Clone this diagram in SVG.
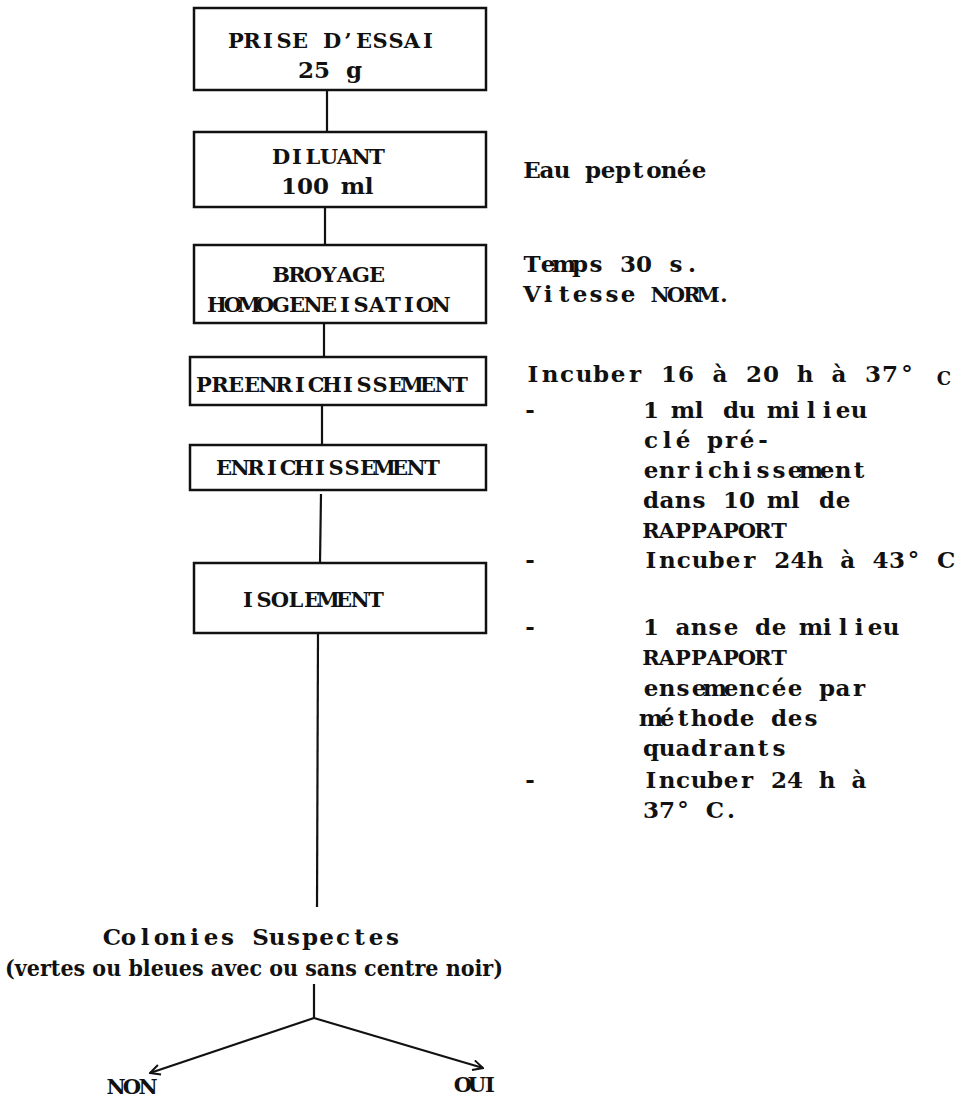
<svg xmlns="http://www.w3.org/2000/svg" width="957" height="1102" viewBox="0 0 957 1102">
  <defs>
    <style>
      text { font-family: "DejaVu Serif", "Liberation Serif", serif; font-weight: bold; font-size: 23px; fill: #111; }
      /* typewriter cells: every glyph is centred on its own x */
      .tw { text-anchor: middle; }
      .caps { font-size: 21px; }
      .box { fill: none; stroke: #111; stroke-width: 2.5; }
      .link { fill: none; stroke: #111; stroke-width: 2.2; }
      .sup { font-size: 18px; }
    </style>
    <marker id="open" viewBox="0 0 12 12" refX="11" refY="6" markerWidth="12" markerHeight="12" markerUnits="userSpaceOnUse" orient="auto">
      <path d="M1,1 L11,6 L1,11" fill="none" stroke="#111" stroke-width="2"/>
    </marker>
  </defs>
  <rect width="957" height="1102" fill="#fff"/>

  <!-- steps of the procedure -->
  <g id="prise">
    <rect class="box" x="194" y="8" width="292" height="82"/>
    <text class="tw caps" y="48" x="236 252 268 284 300 316 332 348 364 380 396 412 428">PRISE D’ESSAI</text>
    <text class="tw" y="78" x="306 322 338 354">25 g</text>
  </g>
  <g id="diluant">
    <rect class="box" x="194" y="132" width="292" height="75"/>
    <text class="tw caps" y="164" x="281 297 313 329 345 361 377">DILUANT</text>
    <text class="tw" y="194" x="289 305 321 337 353 369">100 ml</text>
  </g>
  <g id="broyage">
    <rect class="box" x="194" y="245" width="292" height="78"/>
    <text class="tw caps" y="282" x="281 297 313 329 345 361 377">BROYAGE</text>
    <text class="tw caps" y="312" x="217 233 249 265 281 297 313 329 345 361 377 393 409 425 441">HOMOGENEISATION</text>
  </g>
  <g id="preenrichissement">
    <rect class="box" x="190" y="357" width="296" height="48"/>
    <text class="tw caps" y="392" x="204 220 236 252 268 284 300 316 332 348 364 380 396 412 428 444 460">PREENRICHISSEMENT</text>
  </g>
  <g id="enrichissement">
    <rect class="box" x="190" y="445" width="296" height="45"/>
    <text class="tw caps" y="475" x="224 240 256 272 288 304 320 336 352 368 384 400 416 432">ENRICHISSEMENT</text>
  </g>
  <g id="isolement">
    <rect class="box" x="194" y="563" width="292" height="70"/>
    <text class="tw caps" y="607" x="248 264 280 296 312 328 344 360 376">ISOLEMENT</text>
  </g>
  <g id="colonies">
    <text class="tw" y="945" x="112 128.5 145 161.5 178 194.5 211 227.5 244 260.5 277 293.5 310 326.5 343 359.5 376 392.5">Colonies Suspectes</text>
    <text x="5" y="976" textLength="498" lengthAdjust="spacingAndGlyphs">(vertes ou bleues avec ou sans centre noir)</text>
  </g>
  <g id="non"><text class="tw caps" y="1094" x="116 132 148">NON</text></g>
  <g id="oui"><text class="tw caps" y="1092" x="463 477 490">OUI</text></g>

  <!-- conditions noted beside each step -->
  <g id="notes">
    <text class="tw" y="178" x="532 547 562 578 593 608 623 638 654 669 684 699">Eau peptonée</text>
    <text class="tw" y="272" x="532 548 564 580 596 612 628 644 660 676 692">Temps 30 s.</text>
    <text class="tw" y="302" x="532 548 564 580 596 612 628 644 660 676 692 708 724">Vitesse <tspan class="caps">NORM.</tspan></text>
    <text class="tw" y="382" x="533 550 567 584 601 618 635 652 669 686 703 720 737 754 771 788 805 822 839 856 873 890 907">Incuber 16 à 20 h à 37°</text>
    <text class="sup tw" x="944" y="385">C</text>

    <text class="tw" x="530" y="418">-</text>
    <text class="tw" y="418" x="651 667 683 699 715 731 747 763 779 795 811 827 843 859">1 ml du milieu</text>
    <text class="tw" y="448" x="651 667 683 699 715 731 747 763">clé pré-</text>
    <text class="tw" y="478" x="651 667 683 699 715 731 747 763 779 795 811 827 843 859">enrichissement</text>
    <text class="tw" y="508" x="651 667 683 699 715 731 747 763 779 795 811 827 843">dans 10 ml de</text>
    <text class="tw caps" y="538" x="651 667 683 699 715 731 747 763 779">RAPPAPORT</text>
    <text class="tw" x="530" y="568">-</text>
    <text class="tw" y="568" x="651 667.4 683.8 700.2 716.6 733 749.4 765.8 782.2 798.6 815 831.4 847.8 864.2 880.6 897 913.4 929.8 946.2">Incuber 24h à 43° C</text>

    <text class="tw" x="530" y="635">-</text>
    <text class="tw" y="635" x="651 667 683 699 715 731 747 763 779 795 811 827 843 859 875 891">1 anse de milieu</text>
    <text class="tw caps" y="665" x="651 667 683 699 715 731 747 763 779">RAPPAPORT</text>
    <text class="tw" y="696" x="651 667 683 699 715 731 747 763 779 795 811 827 843 859">ensemencée par</text>
    <text class="tw" y="726" x="651 667 683 699 715 731 747 763 779 795 811">méthode des</text>
    <text class="tw" y="756" x="651 667 683 699 715 731 747 763 779">quadrants</text>
    <text class="tw" x="530" y="788">-</text>
    <text class="tw" y="788" x="651 667 683 699 715 731 747 763 779 795 811 827 843 859">Incuber 24 h à</text>
    <text class="tw" y="818" x="651 667 683 699 715 731">37° C.</text>
  </g>

  <!-- connectors -->
  <g id="connectors">
    <line class="link" x1="327" y1="90" x2="327" y2="132"/>
    <line class="link" x1="325" y1="207" x2="325" y2="245"/>
    <line class="link" x1="324" y1="323" x2="324" y2="357"/>
    <line class="link" x1="322" y1="405" x2="322" y2="445"/>
    <line class="link" x1="321" y1="494" x2="320" y2="563"/>
    <line class="link" x1="318" y1="633" x2="317" y2="907"/>
    <line class="link" x1="314" y1="984" x2="314" y2="1018"/>
    <line class="link" x1="314" y1="1018" x2="150" y2="1073" marker-end="url(#open)"/>
    <line class="link" x1="314" y1="1018" x2="483" y2="1068" marker-end="url(#open)"/>
  </g>
</svg>
